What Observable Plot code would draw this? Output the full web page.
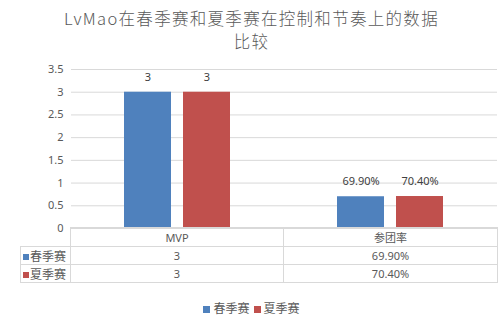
<!DOCTYPE html>
<html>
<head>
<meta charset="utf-8">
<script src="https://cdn.jsdelivr.net/npm/d3@7"></script>
<script src="https://cdn.jsdelivr.net/npm/@observablehq/plot@0.6"></script>
<style>
  html, body { margin: 0; padding: 0; background: #fff; }
  body { position: relative; width: 503px; height: 322px; overflow: hidden;
         font-family: "Noto Sans", "Noto Sans CJK SC", sans-serif; color: #595959; }
  .title { position: absolute; left: 0; width: 503px; text-align: center;
           font-size: 16.5px; line-height: 20px; letter-spacing: 1.3px; color: #595959;
           font-family: "Noto Sans CJK SC", "Noto Sans", sans-serif; font-weight: 300; }
  #title1 { top: 7.5px; }
  #title2 { top: 31px; }
  #chart { position: absolute; top: 55px; left: 0; }
  #table { position: absolute; top: 227px; left: 20px; border-collapse: collapse;
           table-layout: fixed; font-size: 11px; color: #595959; }
  #table td { border: 1px solid #d9d9d9; text-align: center; padding: 0; }
  #table td.blank { border: none; }
  #table td.lab { text-align: left; font-family: "Noto Sans CJK SC", sans-serif; font-size: 12px; padding-left: 2px; }
  .sw { display: inline-block; width: 6px; height: 6px; margin-right: 1px; vertical-align: 1px; }
  #legend { position: absolute; top: 299px; left: 0; width: 503px; text-align: center;
            font-family: "Noto Sans CJK SC", sans-serif; font-size: 12px; color: #595959; }
  #legend span.item { margin: 0 2px; }
  #legend .sw { width: 7px; height: 7px; margin-right: 3px; vertical-align: 0px; }
</style>
</head>
<body>
<div id="title1" class="title"></div>
<div id="title2" class="title"></div>
<div id="chart"></div>
<table id="table"></table>
<div id="legend"></div>
<script>
const titleLines = ["LvMao在春季赛和夏季赛在控制和节奏上的数据", "比较"];
const categories = ["MVP", "参团率"];
const series = ["春季赛", "夏季赛"];
const colors = ["#4F81BD", "#C0504D"];
const springValues = [3, 0.699];
const summerValues = [3, 0.704];
const springLabels = ["3", "69.90%"];
const summerLabels = ["3", "70.40%"];
const yTicks = [0, 0.5, 1, 1.5, 2, 2.5, 3, 3.5];

document.getElementById("title1").textContent = titleLines[0];
document.getElementById("title2").textContent = titleLines[1];

const data = [];
categories.forEach((c, i) => {
  data.push({cat: c, series: series[0], value: springValues[i], label: springLabels[i]});
  data.push({cat: c, series: series[1], value: summerValues[i], label: summerLabels[i]});
});

const chart = Plot.plot({
  width: 503,
  height: 182,
  marginTop: 14,
  marginBottom: 9,
  marginLeft: 70,
  marginRight: 6,
  style: {fontFamily: '"Noto Sans", sans-serif', fontSize: "11px", color: "#595959", background: "transparent"},
  fx: {domain: categories, padding: 0, axis: null},
  x: {domain: series, paddingInner: 0.2, paddingOuter: 0.879, axis: null},
  y: {domain: [0, 3.5], ticks: yTicks, tickFormat: d => String(d), tickSize: 0, tickPadding: 8, label: null},
  color: {domain: series, range: colors},
  marks: [
    Plot.ruleY(yTicks, {stroke: "#d9d9d9", strokeWidth: 1}),
    Plot.barY(data, {fx: "cat", x: "series", y: "value", fill: "series"}),
    Plot.text(data, {fx: "cat", x: "series", y: "value", text: "label", dy: -15, fill: "#404040", fontSize: 11})
  ]
});
document.getElementById("chart").appendChild(chart);

// data table
const table = document.getElementById("table");
const cols = document.createElement("colgroup");
[50, 213, 214].forEach(w => { const c = document.createElement("col"); c.style.width = w + "px"; cols.appendChild(c); });
table.appendChild(cols);
const head = document.createElement("tr");
head.style.height = "19px";
head.innerHTML = '<td class="blank"></td>' + categories.map(c => `<td style="font-family:'Noto Sans','Noto Sans CJK SC',sans-serif">${c}</td>`).join("");
table.appendChild(head);
[[series[0], springLabels, colors[0]], [series[1], summerLabels, colors[1]]].forEach(([name, labels, col]) => {
  const tr = document.createElement("tr");
  tr.style.height = "18px";
  tr.innerHTML = `<td class="lab"><span class="sw" style="background:${col}"></span>${name}</td>` +
    labels.map(l => `<td>${l}</td>`).join("");
  table.appendChild(tr);
});

// legend
document.getElementById("legend").innerHTML = series.map((s, i) =>
  `<span class="item"><span class="sw" style="background:${colors[i]}"></span>${s}</span>`).join("");
</script>
</body>
</html>
